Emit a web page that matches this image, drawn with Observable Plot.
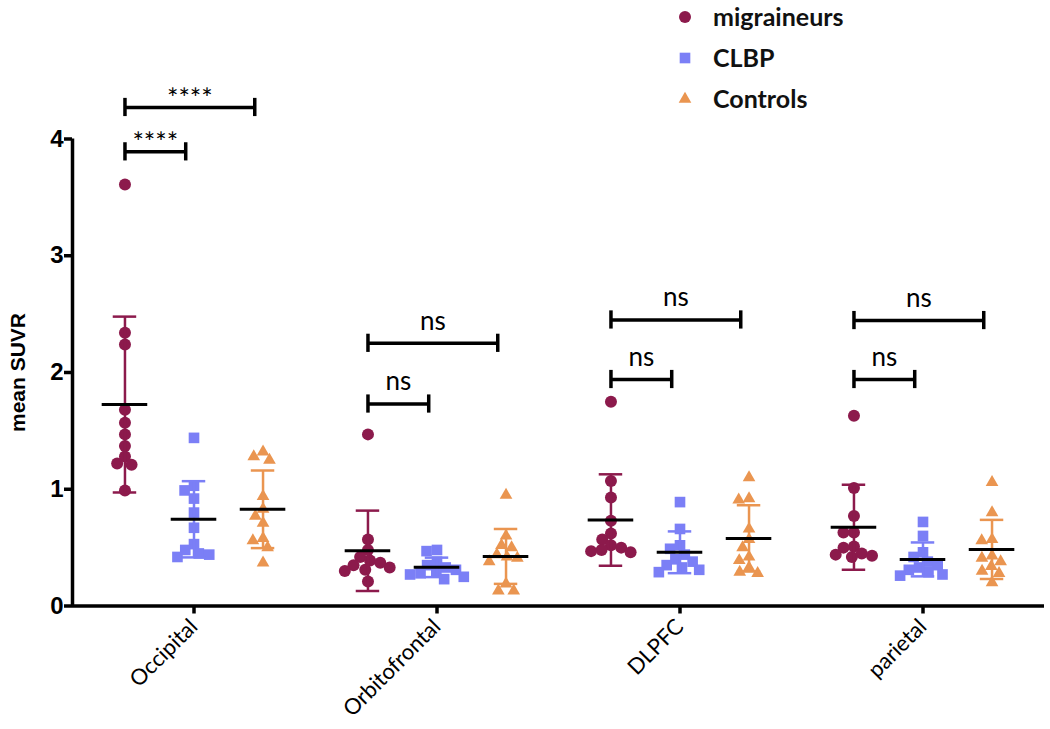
<!DOCTYPE html>
<html>
<head>
<meta charset="utf-8">
<script src="https://cdn.jsdelivr.net/npm/d3@7"></script>
<script src="https://cdn.jsdelivr.net/npm/@observablehq/plot@0.6"></script>
<style>
  body { margin: 0; background: #fff; }
  #wrap { position: relative; width: 1050px; height: 729px; overflow: hidden; }
  #legend { position: absolute; left: 677px; top: -4px; font-family: Lato, sans-serif; font-weight: bold; font-size: 25px; color: #111; }
  #legend .row { display: flex; align-items: center; height: 41px; }
  #legend span { line-height: 25px; }
  #legend svg { margin-right: 20px; }
</style>
</head>
<body>
<div id="wrap"><div id="chart"></div><div id="legend"></div></div>
<script>
// ---- categories ----
const regions = ["Occipital", "Orbitofrontal", "DLPFC", "parietal"];
const groups = ["migraineurs", "CLBP", "Controls"];
const groupColors = ["#8c1a4c", "#7b7ff6", "#ea9550"];
const groupSymbols = ["circle", "square", "triangle"];

// ---- values (mean SUVR per subject) ----
const occipitalMigraineurs = [3.61, 2.34, 2.24, 1.68, 1.57, 1.47, 1.37, 1.28, 1.22, 1.21, 0.99];
const occipitalCLBP = [1.44, 1.03, 0.99, 0.92, 0.80, 0.67, 0.53, 0.48, 0.45, 0.44, 0.42];
const occipitalControls = [1.32, 1.28, 1.25, 0.94, 0.83, 0.77, 0.71, 0.58, 0.56, 0.50, 0.37];
const orbitofrontalMigraineurs = [1.47, 0.57, 0.48, 0.42, 0.39, 0.37, 0.35, 0.33, 0.31, 0.30, 0.21];
const orbitofrontalCLBP = [0.48, 0.47, 0.38, 0.35, 0.33, 0.31, 0.29, 0.28, 0.27, 0.25, 0.23];
const orbitofrontalControls = [0.95, 0.60, 0.52, 0.50, 0.44, 0.42, 0.41, 0.38, 0.19, 0.13, 0.13];
const dlpfcMigraineurs = [1.75, 1.07, 0.93, 0.73, 0.62, 0.57, 0.52, 0.50, 0.48, 0.47, 0.46];
const dlpfcCLBP = [0.89, 0.66, 0.52, 0.49, 0.44, 0.40, 0.38, 0.35, 0.33, 0.31, 0.29];
const dlpfcControls = [1.10, 0.92, 0.91, 0.66, 0.57, 0.50, 0.42, 0.39, 0.33, 0.29, 0.28];
const parietalMigraineurs = [1.63, 1.01, 0.77, 0.63, 0.63, 0.51, 0.50, 0.45, 0.44, 0.43, 0.42];
const parietalCLBP = [0.72, 0.60, 0.46, 0.42, 0.38, 0.35, 0.33, 0.31, 0.29, 0.27, 0.26];
const parietalControls = [1.06, 0.80, 0.57, 0.56, 0.43, 0.41, 0.38, 0.34, 0.30, 0.28, 0.20];

// ---- significance brackets ----
const bracketRegion = ["Occipital", "Occipital", "Orbitofrontal", "Orbitofrontal", "DLPFC", "DLPFC", "parietal", "parietal"];
const bracketFrom = ["migraineurs", "migraineurs", "migraineurs", "migraineurs", "migraineurs", "migraineurs", "migraineurs", "migraineurs"];
const bracketTo = ["Controls", "CLBP", "Controls", "CLBP", "Controls", "CLBP", "Controls", "CLBP"];
const bracketY = [4.27, 3.89, 2.25, 1.73, 2.45, 1.94, 2.445, 1.94];
const bracketLabel = ["****", "****", "ns", "ns", "ns", "ns", "ns", "ns"];

const yTicks = [0, 1, 2, 3, 4];

// ---- build tables ----
const series = {
  Occipital: [occipitalMigraineurs, occipitalCLBP, occipitalControls],
  Orbitofrontal: [orbitofrontalMigraineurs, orbitofrontalCLBP, orbitofrontalControls],
  DLPFC: [dlpfcMigraineurs, dlpfcCLBP, dlpfcControls],
  parietal: [parietalMigraineurs, parietalCLBP, parietalControls]
};
const points = [];
const stats = [];
for (const region of regions) {
  series[region].forEach((vals, gi) => {
    for (const v of vals) points.push({region, group: groups[gi], value: v});
    const m = d3.mean(vals), s = d3.deviation(vals);
    stats.push({region, group: groups[gi], gx: gi - 1, mean: m, lo: m - s, hi: m + s, color: groupColors[gi]});
  });
}
const gx = g => groups.indexOf(g) - 1;
const brackets = bracketRegion.map((r, i) => ({
  region: r, y: bracketY[i], label: bracketLabel[i],
  x1: gx(bracketFrom[i]), x2: gx(bracketTo[i]) - 0.12
}));
const bracketEnds = brackets.flatMap(b => [{...b, x: b.x1}, {...b, x: b.x2}]);

// ---- layout ----
const W = 1050, H = 729;
const M = {top: 138.5, right: 6, bottom: 123.5, left: 72};
const xDomain = [-1.76, 1.76];
const unit = (W - M.left - M.right) / regions.length / (xDomain[1] - xDomain[0]);
const capHalf = 0.17, meanHalf = 0.33, endHalf = 0.078;
const symbolR = [6, 6, 4.7];
const dodgePad = [-1.5, -1.5, 1];

const dotMarks = groups.map((g, gi) =>
  Plot.dot(points.filter(d => d.group === g),
    Plot.dodgeX({anchor: "middle", padding: dodgePad[gi]}, {
      y: "value", fx: "region", r: symbolR[gi], symbol: groupSymbols[gi],
      fill: groupColors[gi], dx: (gi - 1) * unit, sort: "value", reverse: true
    }))
);

const chart = Plot.plot({
  width: W, height: H,
  marginTop: M.top, marginRight: M.right, marginBottom: M.bottom, marginLeft: M.left,
  style: {fontFamily: "Lato, sans-serif", background: "#fff"},
  fx: {domain: regions, padding: 0, axis: null, label: null},
  x: {domain: xDomain, axis: null},
  y: {domain: [0, 4], axis: null, label: null},
  marks: [
    Plot.ruleY([0], {strokeWidth: 3.5, stroke: "#000"}),
    Plot.ruleX([xDomain[0]], {fx: () => regions[0], strokeWidth: 3.5, stroke: "#000"}),
    Plot.axisY({ticks: yTicks, tickSize: 8, tickPadding: 1, strokeWidth: 3.5, fontSize: 24, fontWeight: "bold",
      fontFamily: "Liberation Sans, Arial, sans-serif", label: null, tickFormat: d3.format("d")}),
    Plot.text(["mean SUVR"], {fx: () => regions[0], frameAnchor: "left", textAnchor: "middle", rotate: -90, dx: -54,
      fontSize: 21, fontWeight: "bold", fontFamily: "Liberation Sans, Arial, sans-serif", fill: "#000"}),
    Plot.axisFx({anchor: "bottom", tickSize: 8, tickPadding: 9, strokeWidth: 3.5, tickRotate: -45,
      fontSize: 22, fontFamily: "Lato, sans-serif", label: null}),
    ...dotMarks,
    Plot.ruleX(stats, {fx: "region", x: "gx", y1: "lo", y2: "hi", stroke: "color", strokeWidth: 2.5}),
    Plot.ruleY(stats, {fx: "region", x1: d => d.gx - capHalf, x2: d => d.gx + capHalf, y: "hi", stroke: "color", strokeWidth: 2.5}),
    Plot.ruleY(stats, {fx: "region", x1: d => d.gx - capHalf, x2: d => d.gx + capHalf, y: "lo", stroke: "color", strokeWidth: 2.5}),
    Plot.ruleY(stats, {fx: "region", x1: d => d.gx - meanHalf, x2: d => d.gx + meanHalf, y: "mean", stroke: "#000", strokeWidth: 3}),
    Plot.ruleY(brackets, {fx: "region", x1: "x1", x2: "x2", y: "y", stroke: "#000", strokeWidth: 3.5}),
    Plot.ruleX(bracketEnds, {fx: "region", x: "x", y1: d => d.y - endHalf, y2: d => d.y + endHalf, stroke: "#000", strokeWidth: 3.5}),
    Plot.text(brackets.filter(b => b.label !== "ns"), {fx: "region", x: d => (d.x1 + d.x2) / 2, y: "y", text: "label",
      dy: -8, fontSize: 27, fill: "#000"}),
    Plot.text(brackets.filter(b => b.label === "ns"), {fx: "region", x: d => (d.x1 + d.x2) / 2, y: "y", text: "label",
      dy: -22, fontSize: 26, fill: "#000"})
  ]
});
document.getElementById("chart").append(chart);

// ---- legend ----
const legend = d3.select("#legend");
groups.forEach((g, gi) => {
  const row = legend.append("div").attr("class", "row");
  const svg = row.append("svg").attr("width", 16).attr("height", 16);
  const sym = {circle: d3.symbolCircle, square: d3.symbolSquare, triangle: d3.symbolTriangle}[groupSymbols[gi]];
  svg.append("path").attr("transform", "translate(8,8)")
    .attr("d", d3.symbol(sym, Math.PI * symbolR[gi] * symbolR[gi])()).attr("fill", groupColors[gi]);
  row.append("span").text(g);
});
</script>
</body>
</html>
